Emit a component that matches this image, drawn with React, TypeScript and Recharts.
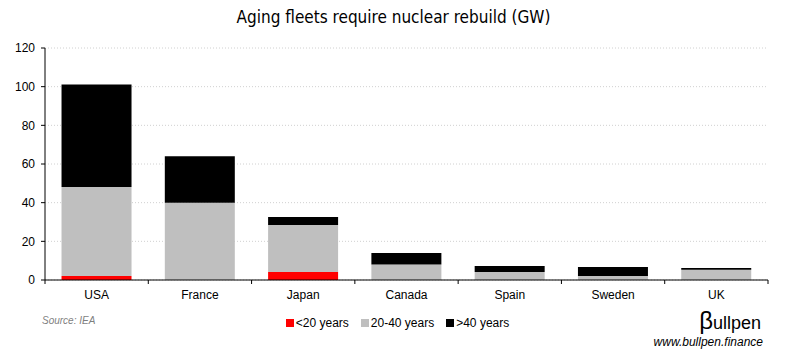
import { BarChart, Bar, XAxis, YAxis, CartesianGrid } from "recharts";

const countries = ["USA", "France", "Japan", "Canada", "Spain", "Sweden", "UK"];
const under20 = [2.1, 0, 4.1, 0, 0, 0, 0];
const from20to40 = [46, 40, 24.3, 8, 4.1, 2.1, 5.3];
const over40 = [53, 24, 4.2, 6, 3.1, 4.6, 0.9];
const yTicks = [0, 20, 40, 60, 80, 100, 120];

const seriesInfo = [
  { key: "young", name: "<20 years", color: "#FF0000" },
  { key: "mid", name: "20-40 years", color: "#BFBFBF" },
  { key: "old", name: ">40 years", color: "#000000" },
];

const data = countries.map((c, i) => ({
  country: c,
  young: under20[i],
  mid: from20to40[i],
  old: over40[i],
}));

const W = 787;
const H = 361;
const X_H = 30;
const M = { top: 48, right: 19, bottom: 81 - X_H, left: 0 };
const Y_W = 45;
const step = (W - M.left - M.right - Y_W) / countries.length;

const font = "'Liberation Sans', Arial, sans-serif";

// category label + tick marks at the band boundaries
function CountryTick(props: any) {
  const { x, y, payload, index } = props;
  return (
    <g>
      <line x1={x - step / 2} x2={x - step / 2} y1={y - 8} y2={y - 4} stroke="#000" />
      {index === countries.length - 1 && (
        <line x1={x + step / 2} x2={x + step / 2} y1={y - 8} y2={y - 4} stroke="#000" />
      )}
      <text x={x} y={y + 11} textAnchor="middle" fontSize={12} fontFamily={font} fill="#000">
        {payload.value}
      </text>
    </g>
  );
}

export default function App() {
  return (
    <div style={{ position: "absolute", left: 0, top: 0, width: W, height: H, background: "#fff" }}>
      <div
        style={{
          position: "absolute",
          top: 7,
          width: W,
          textAlign: "center",
          fontFamily: "'Liberation Sans Narrow', 'DejaVu Sans Condensed', sans-serif",
          fontSize: 17,
          color: "#000",
        }}
      >
        Aging fleets require nuclear rebuild (GW)
      </div>
      <BarChart width={W} height={H} data={data} margin={M} barCategoryGap="16%">
        <CartesianGrid vertical={false} stroke="#d0d0d0" strokeDasharray="1 2" />
        <XAxis
          dataKey="country"
          height={X_H}
          axisLine={{ stroke: "#000" }}
          tickLine={false}
          tick={<CountryTick />}
          interval={0}
        />
        <YAxis
          width={Y_W}
          domain={[0, 120]}
          ticks={yTicks}
          axisLine={{ stroke: "#000" }}
          tickLine={{ stroke: "#000" }}
          tickSize={4}
          tickMargin={6}
          tick={{ fill: "#000", fontSize: 12, fontFamily: font }}
        />
        {seriesInfo.map((s) => (
          <Bar key={s.key} dataKey={s.key} name={s.name} stackId="a" fill={s.color} isAnimationActive={false} />
        ))}
      </BarChart>
      <div
        style={{
          position: "absolute",
          top: 316,
          left: 4,
          width: W,
          display: "flex",
          justifyContent: "center",
          gap: 12,
          fontFamily: font,
          fontSize: 12,
          color: "#000",
        }}
      >
        {seriesInfo.map((s) => (
          <span key={s.key} style={{ display: "flex", alignItems: "center" }}>
            <span style={{ width: 8, height: 8, background: s.color, marginRight: 2, display: "inline-block" }} />
            {s.name}
          </span>
        ))}
      </div>
      <div
        style={{
          position: "absolute",
          left: 42,
          top: 315,
          fontFamily: font,
          fontSize: 10,
          fontStyle: "italic",
          color: "#7f7f7f",
        }}
      >
        Source: IEA
      </div>
      <div
        style={{
          position: "absolute",
          right: 26,
          top: 307,
          fontFamily: font,
          fontSize: 18,
          color: "#000",
        }}
      >
        <span style={{ fontSize: 24 }}>β</span>ullpen
      </div>
      <div
        style={{
          position: "absolute",
          right: 24,
          top: 335,
          fontFamily: font,
          fontSize: 12,
          fontStyle: "italic",
          color: "#000",
        }}
      >
        www.bullpen.finance
      </div>
    </div>
  );
}
